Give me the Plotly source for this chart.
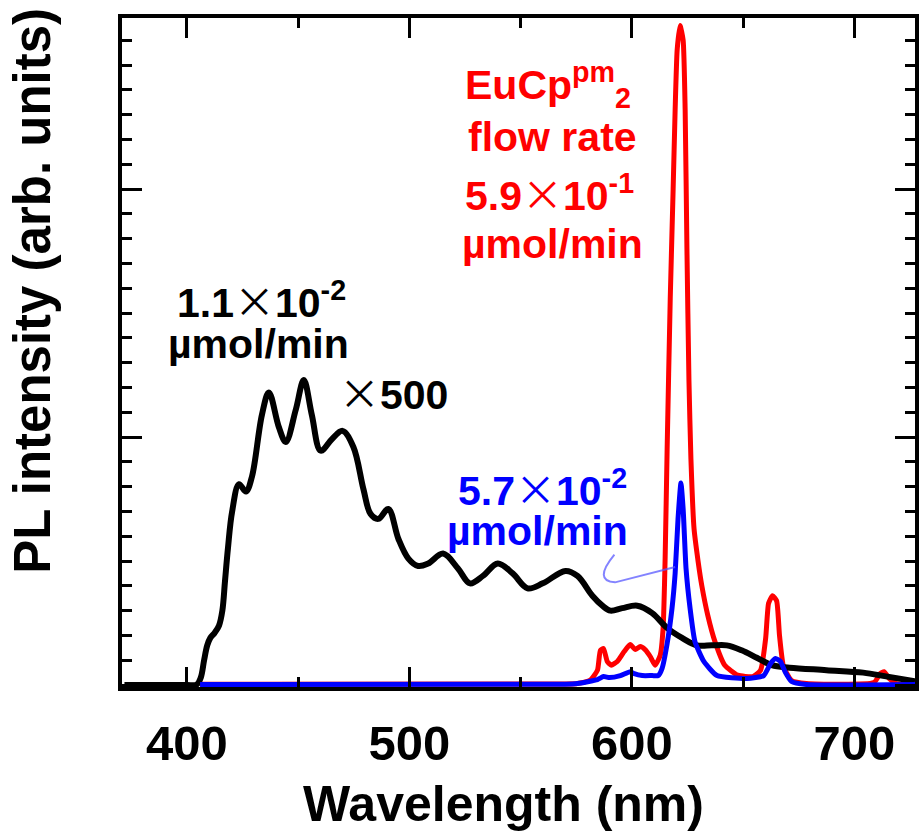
import plotly.graph_objects as go

# ---- data ----
black_nm = [372, 390, 400, 404.5, 406.3, 407.8, 409.2, 410.6, 412.5, 414.5, 416.0, 417.2, 418.5, 420.4, 423.5,
            426.6, 429.3, 433.8, 436.9, 441.4, 444.5, 449.0, 452.6, 456.2, 460.2, 465.1, 470.0,
            474.9, 479.4, 482.6, 486.1, 490.6, 495.1, 499.6, 504.0, 508.5, 515.2, 521.9, 527.3,
            533.1, 539.8, 546.5, 553.2, 560.0, 570.2, 575.6, 582.3, 586.8, 590.4, 595.7, 602.5,
            609.2, 615.9, 622.6, 629.3, 636.0, 642.7, 649.4, 656.2, 662.9, 670.9, 687.5, 704.0,
            714.3, 727.3]
black_int = [0, 0, 0, 0.002, 0.03, 0.10, 0.16, 0.19, 0.21, 0.24, 0.30, 0.42, 0.55, 0.70, 0.81,
             0.78, 0.84, 1.09, 1.18, 1.04, 0.98, 1.11, 1.23, 1.09, 0.945, 0.99, 1.025,
             0.96, 0.79, 0.69, 0.67, 0.71, 0.59, 0.51, 0.48, 0.49, 0.53, 0.47, 0.41,
             0.44, 0.49, 0.45, 0.39, 0.41, 0.46, 0.44, 0.36, 0.32, 0.30, 0.31, 0.32,
             0.29, 0.23, 0.19, 0.16, 0.16, 0.16, 0.14, 0.11, 0.08, 0.07, 0.06, 0.05,
             0.035, 0.015]

red_nm = [406, 570, 575.6, 581.4, 584.6, 585.9, 587.3, 589.0, 590.8, 593.5, 596.6, 599.3, 601.6,
          603.8, 606.0, 608.3, 610.5, 612.8, 614.1, 615.0, 615.9, 617.3, 618.6, 619.5, 620.4,
          621.7, 623.1, 624.0, 624.8, 625.7, 626.6, 628.0, 629.8, 631.5, 634.2, 637.4, 641.8,
          647.6, 654.4, 657.9, 660.2, 661.5, 663.3, 665.1, 666.4, 668.2, 671.8, 678.5, 708.9,
          711.6, 713.4, 715.7, 718.8, 727.3]
red_int = [0.003, 0.004, 0.006, 0.02, 0.06, 0.14, 0.147, 0.095, 0.08, 0.095, 0.135, 0.163, 0.143,
           0.155, 0.143, 0.115, 0.08, 0.12, 0.23, 0.51, 0.95, 1.56, 2.00, 2.32, 2.56,
           2.66, 2.60, 2.32, 1.76, 1.23, 0.91, 0.63, 0.50, 0.40, 0.28, 0.175, 0.08,
           0.04, 0.034, 0.06, 0.19, 0.33, 0.36, 0.34, 0.20, 0.075, 0.018, 0.006, 0.01,
           0.046, 0.054, 0.026, 0.006, 0.002]

blue_nm = [406, 570, 575.6, 584.6, 587.3, 590.0, 594.9, 599.3, 601.1, 604.7, 609.2, 611.9, 613.6,
           615.9, 618.1, 619.5, 620.8, 622.1, 623.1, 624.4, 626.2, 628.4, 632.4, 638.3, 651.7,
           659.3, 662.4, 664.6, 666.8, 669.1, 671.8, 678.5, 727.3]
blue_int = [0.002, 0.003, 0.006, 0.022, 0.034, 0.03, 0.038, 0.054, 0.046, 0.038, 0.038, 0.038, 0.066,
            0.167, 0.31, 0.45, 0.67, 0.815, 0.71, 0.47, 0.31, 0.175, 0.095, 0.038, 0.026,
            0.038, 0.087, 0.107, 0.095, 0.05, 0.014, 0.002, 0.002]

x_ticks = [400, 500, 600, 700]
x_ticktext = ["400", "500", "600", "700"]

RED = "#ff0000"
BLUE = "#0000ff"
FONT = "Arial, Liberation Sans, Helvetica, sans-serif"
TIMES = "<span style=\"font-family:'Noto Sans CJK JP';font-weight:normal\">×</span>"

fig = go.Figure()
fig.add_trace(go.Scatter(x=red_nm, y=red_int, mode="lines",
                         line=dict(color=RED, width=5, shape="spline", smoothing=0.5),
                         hoverinfo="skip"))
fig.add_trace(go.Scatter(x=black_nm, y=black_int, mode="lines",
                         line=dict(color="black", width=6, shape="spline", smoothing=1.0),
                         hoverinfo="skip"))
fig.add_trace(go.Scatter(x=blue_nm, y=blue_int, mode="lines",
                         line=dict(color=BLUE, width=5, shape="spline", smoothing=0.5),
                         hoverinfo="skip"))

# pointer line for the blue label
fig.add_shape(type="path", xref="x", yref="y",
              path="M 592.2,0.526 Q 582.5,0.42 592.5,0.414 L 619.5,0.476",
              line=dict(color="rgba(90,90,255,0.75)", width=2))

def ann(text, x, y, color, size=41):
    fig.add_annotation(text=text, x=x, y=y, xref="x", yref="y", showarrow=False,
                       xanchor="center", yanchor="middle",
                       font=dict(family=FONT, size=size, color=color, weight="bold"))

ann("EuCp<sup>pm</sup><sub>2</sub>", 562.5, 2.42, RED)
ann("flow rate", 564.4, 2.21, RED)
ann("5.9" + TIMES + "10<sup>-1</sup>", 563.1, 1.99, RED)
ann("µmol/min", 564.4, 1.78, RED)
ann("1.1" + TIMES + "10<sup>-2</sup>", 433.8, 1.555, "black")
ann("µmol/min", 432.4, 1.375, "black")
ann(TIMES + "500", 492.8, 1.185, "black")
ann("5.7" + TIMES + "10<sup>-2</sup>", 559.9, 0.80, BLUE)
ann("µmol/min", 557.7, 0.62, BLUE)

# axis titles as annotations (positioned like the reference)
fig.add_annotation(text="PL intensity (arb. units)", xref="paper", yref="paper",
                   x=-0.113, y=0.593, textangle=-90, showarrow=False,
                   xanchor="center", yanchor="middle",
                   font=dict(family=FONT, size=51, color="black", weight="bold"))
fig.add_annotation(text="Wavelength (nm)", xref="paper", yref="paper",
                   x=0.4806, y=-0.175, showarrow=False,
                   xanchor="center", yanchor="middle",
                   font=dict(family=FONT, size=50, color="black", weight="bold"))

axis_common = dict(showline=True, linewidth=4, linecolor="black", mirror="allticks",
                   ticks="inside", tickwidth=3, tickcolor="black", showgrid=False,
                   zeroline=False)
fig.update_xaxes(range=[370.9, 727.3], tickvals=x_ticks, ticktext=x_ticktext, ticklen=20,
                 ticklabelstandoff=10,
                 tickfont=dict(family=FONT, size=49, color="black", weight="bold"),
                 minor=dict(dtick=50, ticklen=10, tickwidth=3, tickcolor="black", ticks="inside",
                            showgrid=False),
                 **axis_common)
fig.update_yaxes(range=[-0.008, 2.69], dtick=1, tick0=0, ticklen=20, showticklabels=False,
                 minor=dict(dtick=0.1, ticklen=10, tickwidth=3, tickcolor="black", ticks="inside",
                            showgrid=False),
                 **axis_common)

fig.update_layout(width=919, height=835, margin=dict(l=122, r=0, t=18, b=148),
                  plot_bgcolor="white", paper_bgcolor="white", showlegend=False)

fig.write_html("out.html")
